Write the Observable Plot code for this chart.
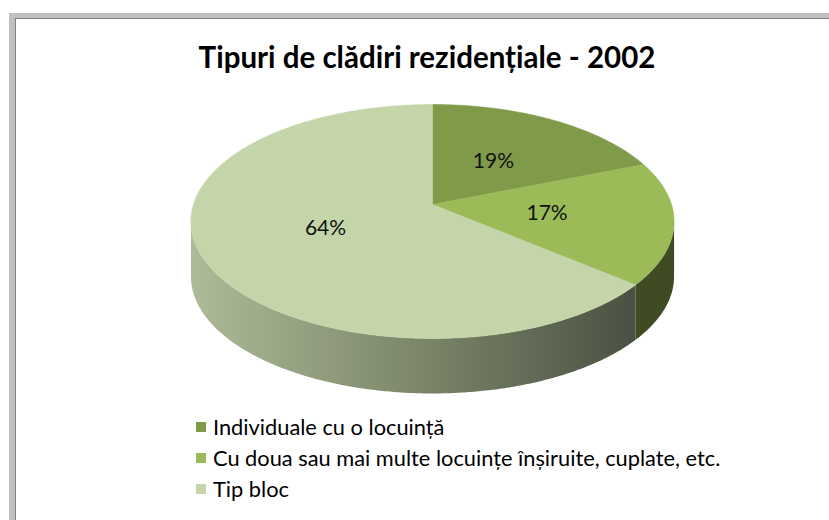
<!DOCTYPE html>
<html>
<head>
<meta charset="utf-8">
<script src="https://cdn.jsdelivr.net/npm/d3@7"></script>
<script src="https://cdn.jsdelivr.net/npm/@observablehq/plot@0.6"></script>
<style>
  html, body { margin: 0; padding: 0; background: #fff; width: 829px; height: 520px; overflow: hidden; }
  body { font-family: Lato, "Noto Sans", sans-serif; position: relative; }
  #frame { position: absolute; left: 9px; top: 13px; width: 860px; height: 540px; box-sizing: border-box;
           border-left: 6px solid #c0c0c0; border-top: 5px solid #c0c0c0; }
  #inner { position: absolute; left: 0; top: 0; right: 0; bottom: 0; border-left: 1px solid #808080; border-top: 1px solid #808080; }
  #title { position: absolute; left: 0; top: 39px; width: 854px; text-align: center; font-family: Lato, sans-serif;
           font-weight: bold; font-size: 29.5px; line-height: 36px; color: #000; white-space: nowrap; }
  #chart { position: absolute; left: 0; top: 90px; }
  #legend { position: absolute; left: 196px; top: 411px; }
  #legend .lg-swatches { font-family: Lato, sans-serif; font-size: 21.8px; color: #000; margin: 0; }
  #legend .lg-swatch { height: 31px; padding: 0; }
  #legend .lg-swatch > svg { margin-right: 7px; }
  #legend .lg-swatch-label { overflow: visible; }
</style>
</head>
<body>
<div id="frame"><div id="inner"></div></div>
<div id="title">Tipuri de clădiri rezidențiale - 2002</div>
<div id="chart"></div>
<div id="legend"></div>
<script>
// ---- data ----
const categories = [
  "Individuale cu o locuință",
  "Cu doua sau mai multe locuințe înșiruite, cuplate, etc.",
  "Tip bloc"
];
const values = [19, 17, 64];
const labels = values.map(v => v + "%");

// ---- styles ----
const topColors = ["#7f9b4a", "#9bbb59", "#c4d5a9"];
const sideColors = ["#5f7436", "#3f4b22", "url(#sideGrad3)"];

// ---- 3D pie geometry (perspective projection of a disc) ----
const cx = 432, cy = 204, a = 239, b = 114.5, k = -0.1453, depth = 55;
function proj(theta, r = 1, dy = 0) {
  const z = -Math.cos(theta) * r, x = Math.sin(theta) * r;
  const w = 1 + k * z;
  return {x: cx + a * x / w, y: cy + b * z / w + dy};
}
const arcs = d3.pie().sort(null).value(d => d)(values);
const step = Math.PI / 360;
function arcPoints(t0, t1, dy) {
  const pts = [];
  const n = Math.max(2, Math.ceil(Math.abs(t1 - t0) / step));
  for (let j = 0; j <= n; ++j) pts.push(proj(t0 + (t1 - t0) * j / n, 1, dy));
  return pts;
}
const tVisL = Math.acos(k), tVisR = 2 * Math.PI - Math.acos(k);

const tops = arcs.map((arc, i) => [ {x: cx, y: cy}, ...arcPoints(arc.startAngle, arc.endAngle, 0), {x: cx, y: cy} ].map(p => ({...p, i})));
const sides = arcs.map((arc, i) => {
  const lo = Math.max(arc.startAngle, tVisL), hi = Math.min(arc.endAngle, tVisR);
  if (!(lo < hi)) return [];
  return [...arcPoints(lo, hi, 0), ...arcPoints(hi, lo, depth)].map(p => ({...p, i}));
});
const labelData = arcs.map((arc, i) => ({...proj((arc.startAngle + arc.endAngle) / 2, 0.48), text: labels[i]}));

const defsMark = () => {
  const defs = d3.create("svg:defs");
  const g = defs.append("linearGradient").attr("id", "sideGrad3").attr("x1", 0).attr("x2", 1).attr("y1", 0).attr("y2", 0);
  g.append("stop").attr("offset", "0%").attr("stop-color", "#adbb98");
  g.append("stop").attr("offset", "50%").attr("stop-color", "#7d886b");
  g.append("stop").attr("offset", "100%").attr("stop-color", "#4a5142");
  return defs.node();
};

const chart = Plot.plot({
  width: 829, height: 310, margin: 0,
  x: {domain: [0, 829], range: [0, 829], axis: null},
  y: {domain: [90, 400], range: [0, 310], axis: null},
  style: {background: "transparent", overflow: "visible"},
  marks: [
    defsMark,
    ...sides.map((pts, i) => Plot.line(pts, {x: "x", y: "y", fill: sideColors[i], stroke: "none", curve: "linear"})),
    ...tops.map((pts, i) => Plot.line(pts, {x: "x", y: "y", fill: topColors[i], stroke: topColors[i], strokeWidth: 0.6, curve: "linear"})),
    Plot.text(labelData, {x: "x", y: "y", text: "text", fontSize: 21, fill: "#111", fontFamily: "Lato, sans-serif"})
  ]
});
document.getElementById("chart").appendChild(chart);

const legend = Plot.legend({
  color: {type: "ordinal", domain: categories, range: topColors},
  legend: "swatches", columns: 1, swatchSize: 10, className: "lg"
});
document.getElementById("legend").appendChild(legend);
</script>
</body>
</html>
